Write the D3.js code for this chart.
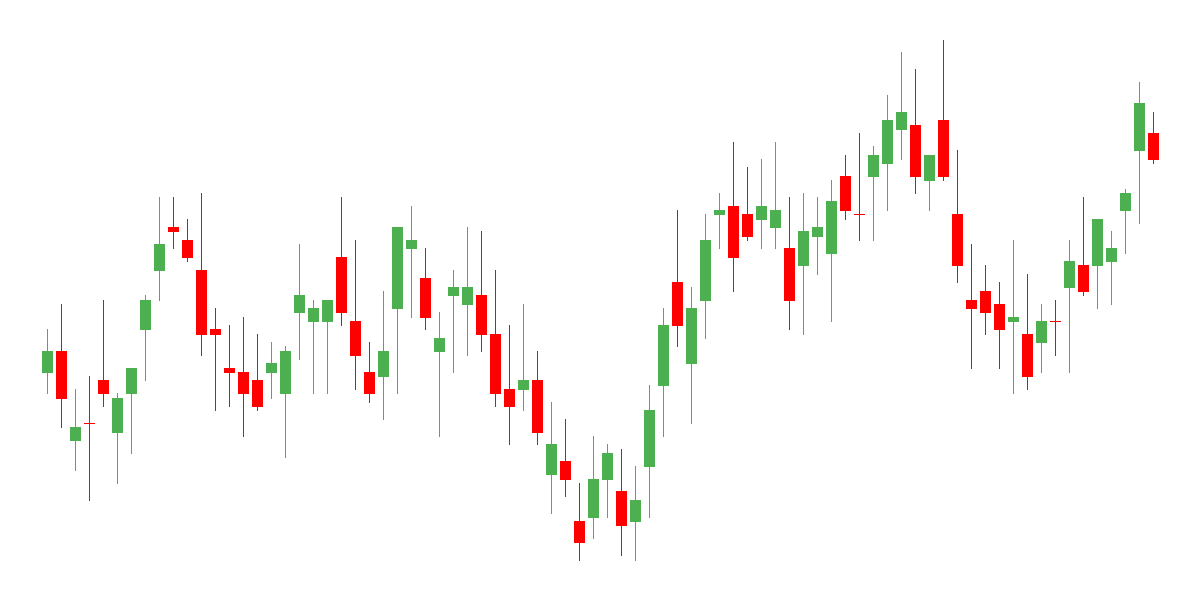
<!DOCTYPE html>
<html>
<head>
<meta charset="utf-8">
<script src="https://cdn.jsdelivr.net/npm/d3@7"></script>
<style>
  html, body { margin: 0; padding: 0; background: #fff; }
  svg { display: block; }
</style>
</head>
<body>
<div id="chart"></div>
<script>
// prices, one entry per session
const opens = [45.4, 49.8, 31.8, 35.4, 44.0, 33.4, 41.2, 54.0, 65.8, 74.6,
  72.0, 66.0, 54.2, 46.4, 45.6, 44.0, 45.4, 41.2, 57.4, 55.6,
  55.6, 68.6, 55.8, 45.6, 44.6, 58.2, 70.2, 64.4, 49.6, 60.8,
  59.0, 61.0, 53.2, 42.2, 42.0, 44.0, 25.0, 27.8, 15.8, 16.4,
  24.0, 21.8, 15.6, 26.6, 42.8, 63.6, 47.2, 59.8, 77.0, 78.8,
  77.2, 76.0, 74.4, 70.4, 66.8, 72.6, 69.2, 84.8, 77.2, 84.6,
  87.2, 94.0, 95.0, 83.8, 96.0, 77.2, 60.0, 61.8, 59.2, 55.6,
  53.2, 51.4, 55.8, 62.4, 67.0, 66.8, 67.6, 77.8, 89.8, 93.4];
const highs = [54.2, 59.2, 42.2, 44.8, 60.0, 41.4, 46.4, 61.0, 80.6, 80.6,
  76.2, 81.4, 58.4, 55.0, 56.6, 53.2, 51.6, 50.8, 71.2, 60.0,
  60.0, 80.6, 72.0, 51.6, 61.8, 74.6, 78.8, 70.4, 57.6, 66.0,
  74.6, 73.8, 66.0, 55.0, 59.2, 49.8, 39.6, 36.2, 23.4, 32.8,
  31.2, 30.2, 26.8, 43.0, 58.4, 78.0, 62.6, 77.2, 81.4, 91.6,
  86.6, 88.2, 91.6, 80.6, 81.4, 80.6, 84.0, 89.0, 93.4, 90.8,
  101.0, 109.6, 106.2, 89.0, 112.0, 90.0, 71.2, 67.0, 63.6, 72.0,
  65.2, 59.2, 60.0, 72.0, 80.6, 76.2, 73.8, 82.2, 103.6, 97.6];
const lows = [41.2, 34.4, 25.8, 19.8, 38.6, 23.2, 29.2, 43.8, 59.8, 70.2,
  67.6, 48.8, 37.8, 38.6, 32.6, 37.8, 40.2, 28.4, 48.0, 41.2,
  41.2, 54.8, 42.0, 39.4, 36.0, 41.2, 56.4, 54.0, 32.6, 45.4,
  48.8, 49.6, 38.6, 31.0, 37.8, 31.0, 17.2, 20.6, 7.8, 12.2,
  16.4, 8.8, 7.8, 16.4, 32.6, 50.6, 35.2, 52.2, 70.2, 61.6,
  71.8, 70.2, 70.2, 54.0, 53.0, 65.0, 55.6, 76.0, 71.8, 71.8,
  77.8, 88.0, 81.2, 77.8, 83.8, 63.4, 46.2, 53.0, 46.2, 41.2,
  42.0, 45.4, 48.8, 45.4, 60.8, 58.2, 59.0, 69.2, 75.2, 87.2];
const closes = [49.8, 40.2, 34.6, 35.3, 41.2, 40.4, 46.4, 60.0, 71.2, 73.6,
  68.4, 53.0, 53.0, 45.4, 41.2, 38.6, 47.4, 49.8, 61.0, 58.4,
  60.0, 57.4, 48.8, 41.2, 49.8, 74.6, 72.0, 56.4, 52.4, 62.6,
  62.6, 53.0, 41.2, 38.6, 44.0, 33.4, 31.2, 24.0, 11.4, 24.2,
  29.4, 14.8, 20.0, 38.0, 55.0, 54.8, 58.4, 72.0, 78.0, 68.4,
  72.6, 78.8, 78.0, 59.8, 73.8, 74.6, 79.8, 77.8, 77.1, 89.0,
  96.0, 97.6, 84.6, 89.0, 84.6, 66.8, 58.2, 57.4, 54.0, 56.6,
  44.6, 55.8, 55.7, 67.8, 61.6, 76.2, 70.4, 81.4, 99.4, 88.0];

const upColor = "#4caf50";
const downColor = "#ff0000";

const width = 1200;
const height = 600;

const candles = opens.map((o, i) => ({
    i: i, open: o, high: highs[i], low: lows[i], close: closes[i]
}));

const svg = d3.select("#chart").append("svg")
    .attr("width", width)
    .attr("height", height);

const x = d3.scaleBand()
    .domain(candles.map(d => d.i))
    .range([40.5, 1160.5])
    .paddingInner(3 / 14)
    .paddingOuter(1.5 / 14);

const y = d3.scaleLinear()
    .domain([0, 120])
    .range([height, 0]);

const colorOf = d => d.close >= d.open ? upColor : downColor;

const g = svg.selectAll("g.candle")
    .data(candles)
    .enter().append("g")
    .attr("class", "candle");

// wick
g.append("line")
    .attr("x1", d => Math.floor(x(d.i) + x.bandwidth() / 2) + 0.5)
    .attr("x2", d => Math.floor(x(d.i) + x.bandwidth() / 2) + 0.5)
    .attr("y1", d => y(d.high))
    .attr("y2", d => y(d.low))
    .attr("stroke", colorOf)
    .attr("stroke-width", 1);

// body
g.append("rect")
    .attr("x", d => Math.round(x(d.i)))
    .attr("width", Math.round(x.bandwidth()))
    .attr("y", d => y(Math.max(d.open, d.close)))
    .attr("height", d => Math.max(1, Math.abs(y(d.open) - y(d.close))))
    .attr("fill", colorOf);
</script>
</body>
</html>
